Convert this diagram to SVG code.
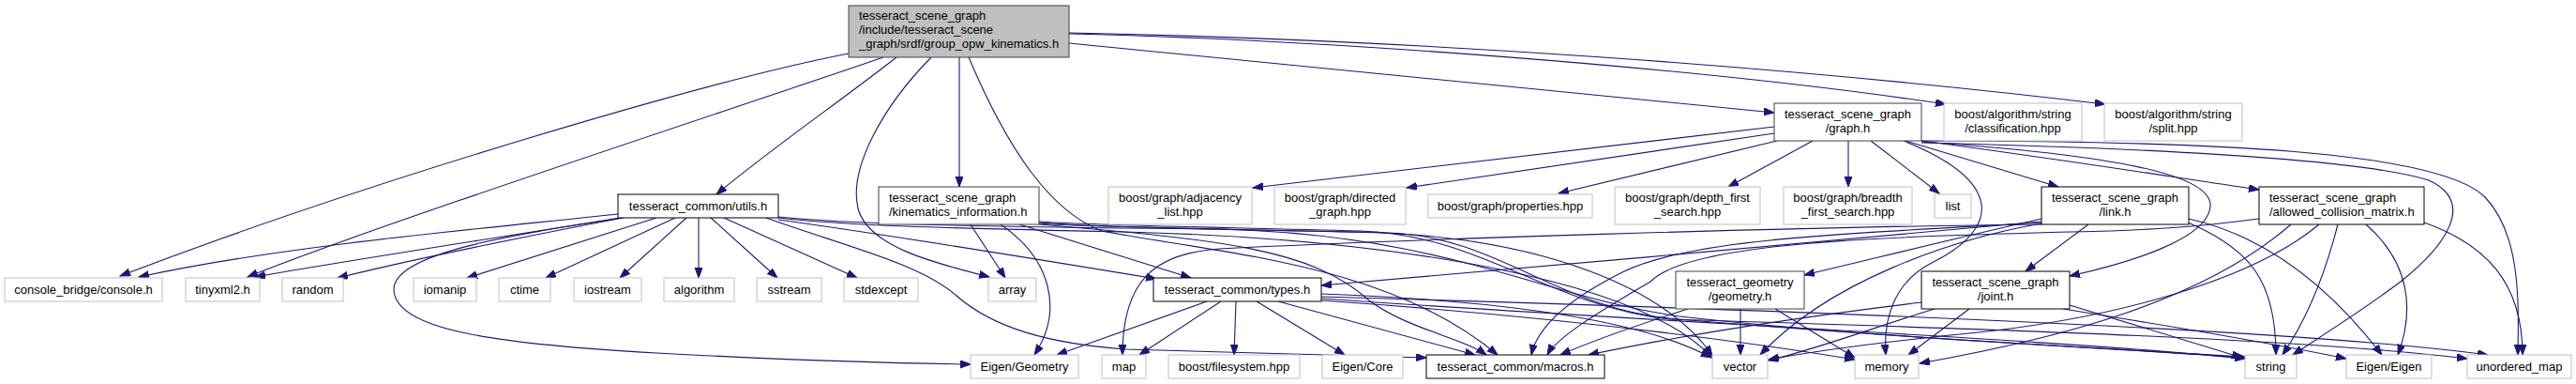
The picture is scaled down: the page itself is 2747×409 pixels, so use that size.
<svg xmlns="http://www.w3.org/2000/svg" width="2747" height="409" viewBox="0 0 2747 409">
<style>
text{font-family:"Liberation Sans",Arial,Helvetica,sans-serif;font-size:13px;fill:#000}
.c{text-anchor:middle}
.ext rect{fill:#fff;stroke:#bfbfbf;stroke-width:1}
.doc rect{fill:#fff;stroke:#000;stroke-width:1}
.dk rect{fill:#fff;stroke:#404040;stroke-width:1}
#edges path{fill:none;stroke:#191970;stroke-width:1.1;marker-end:url(#a)}
</style>
<defs>
<marker id="a" markerWidth="12" markerHeight="9" refX="11" refY="4" orient="auto" markerUnits="userSpaceOnUse">
<path d="M0,0 L11,4 L0,8 z" fill="#191970" stroke="#191970" stroke-width="1"/>
</marker>
</defs>
<rect x="0" y="0" width="2747" height="409" fill="#fff"/>
<g id="edges">
<path d="M905,57 C760,85 400,190 128,294"/>
<path d="M942,61 C800,110 400,240 264,295"/>
<path d="M956,61 C900,105 820,160 764,207"/>
<path d="M1023,61 L1023,199"/>
<path d="M993,61 C940,115 905,180 915,222 C925,262 995,280 1055,295"/>
<path d="M1033,61 C1075,160 1120,225 1175,246 C1300,270 1480,280 1597,378"/>
<path d="M1140,46 L1892,120"/>
<path d="M1140,36 C1400,42 1800,70 2075,111"/>
<path d="M1140,35 C1500,42 1900,70 2245,111"/>
<path d="M659,228 C500,245 300,262 148,295"/>
<path d="M661,232 C520,255 380,276 272,295"/>
<path d="M664,232 C560,252 440,276 360,296"/>
<path d="M700,232 L498,296"/>
<path d="M720,232 L582,296"/>
<path d="M732,232 L661,296"/>
<path d="M745,232 L745,296"/>
<path d="M758,232 L829,296"/>
<path d="M772,232 L914,296"/>
<path d="M665,232 C560,248 420,268 420,308 C420,350 520,366 700,376 C850,384 950,387 1035,388"/>
<path d="M817,232 C900,262 980,280 1020,315 C1060,350 1120,366 1200,372 C1350,377 1450,378 1521,381"/>
<path d="M830,234 C960,252 1100,275 1233,297"/>
<path d="M830,232 C900,240 1000,243 1200,247 C1500,255 1750,300 1825,380"/>
<path d="M830,231 C900,238 1000,241 1300,244 C1550,250 1650,320 1800,338 C2000,360 2250,370 2394,381"/>
<path d="M1035,239 L1072,296"/>
<path d="M1067,239 C1120,275 1135,330 1103,378"/>
<path d="M1087,239 L1270,296"/>
<path d="M1108,239 C1300,255 1400,265 1460,320 C1500,350 1560,360 1585,378"/>
<path d="M1108,237 C1150,241 1250,243 1450,247 C1650,252 1780,310 1826,379"/>
<path d="M1108,238 C1160,242 1300,244 1480,248 C1600,252 1660,330 1790,340 C2000,358 2250,372 2394,380"/>
<path d="M1108,236 C1160,240 1300,242 1450,246 C1580,250 1650,325 1780,340 C2100,350 2450,360 2631,382"/>
<path d="M1892,135 L1336,200"/>
<path d="M1892,142 L1500,200"/>
<path d="M1895,150 L1662,206"/>
<path d="M1933,150 L1843,199"/>
<path d="M1971,150 L1971,199"/>
<path d="M1995,150 L2068,206"/>
<path d="M2032,150 L2195,199"/>
<path d="M2049,150 C2200,170 2300,186 2409,202"/>
<path d="M2049,151 C2250,165 2360,185 2357,220 C2354,255 2270,280 2207,294"/>
<path d="M2030,150 C2130,190 2140,240 2060,280 C2020,300 2008,340 2011,378"/>
<path d="M2049,152 C2300,158 2520,170 2590,192 C2640,215 2610,260 2560,300 C2520,330 2480,355 2445,378"/>
<path d="M2049,150 C2350,150 2600,160 2650,210 C2688,250 2686,320 2685,378"/>
<path d="M2227,239 L2160,289"/>
<path d="M2177,233 C2080,255 2000,275 1924,293"/>
<path d="M2177,236 C1950,255 1650,285 1409,304"/>
<path d="M2177,237 C1950,250 1800,255 1730,290 C1680,315 1640,345 1633,378"/>
<path d="M2177,238 C2080,255 1950,300 1877,378"/>
<path d="M2333,237 C2400,265 2427,300 2427,378"/>
<path d="M2334,233 C2410,250 2480,300 2540,378"/>
<path d="M2177,239 C1900,242 1500,255 1300,265 C1230,270 1197,300 1197,378"/>
<path d="M2409,233 C2370,238 2330,243 2250,246 C2000,252 1800,258 1760,300 C1700,335 1660,360 1650,378"/>
<path d="M2443,239 C2350,320 2200,360 2047,387"/>
<path d="M2473,239 C2400,300 2250,340 2100,355 C2000,365 1930,375 1886,383"/>
<path d="M2493,239 C2480,290 2460,340 2434,378"/>
<path d="M2523,239 C2570,280 2575,330 2557,378"/>
<path d="M2585,237 C2650,260 2690,300 2690,378"/>
<path d="M2100,329 L2035,378"/>
<path d="M2063,329 C2000,348 1950,368 1886,384"/>
<path d="M2049,322 C1900,340 1780,360 1694,378"/>
<path d="M2207,325 L2391,381"/>
<path d="M2200,329 C2300,345 2420,365 2502,382"/>
<path d="M1800,329 C1750,345 1700,362 1664,378"/>
<path d="M1856,329 L1856,378"/>
<path d="M1893,329 L1978,381"/>
<path d="M1287,321 L1127,378"/>
<path d="M1302,321 L1215,378"/>
<path d="M1318,321 L1316,378"/>
<path d="M1340,321 L1434,378"/>
<path d="M1363,321 L1573,378"/>
<path d="M1409,313 C1600,320 1750,340 1825,381"/>
<path d="M1409,318 C1800,345 2200,362 2394,382"/>
<path d="M1409,316 C1900,330 2450,350 2653,378"/>
<path d="M1409,320 C1700,340 1900,370 1978,383"/>
</g>
<g id="n_main"><rect x="905" y="6" width="235" height="55" fill="#bfbfbf" stroke="#404040"/><text x="916" y="21">tesseract_scene_graph</text><text x="916" y="36">/include/tesseract_scene</text><text x="916" y="51">_graph/srdf/group_opw_kinematics.h</text></g>
<g id="n_console" class="ext"><rect x="5" y="296" width="168" height="25"/><text class="c" x="89" y="313">console_bridge/console.h</text></g>
<g id="n_tinyxml2" class="ext"><rect x="198" y="296" width="79" height="25"/><text class="c" x="237.5" y="313">tinyxml2.h</text></g>
<g id="n_random" class="ext"><rect x="301" y="296" width="65" height="25"/><text class="c" x="333.5" y="313">random</text></g>
<g id="n_iomanip" class="ext"><rect x="441" y="296" width="67" height="25"/><text class="c" x="474.5" y="313">iomanip</text></g>
<g id="n_ctime" class="ext"><rect x="532" y="296" width="55" height="25"/><text class="c" x="559.5" y="313">ctime</text></g>
<g id="n_iostream" class="ext"><rect x="612" y="296" width="72" height="25"/><text class="c" x="648" y="313">iostream</text></g>
<g id="n_algorithm" class="ext"><rect x="708" y="296" width="75" height="25"/><text class="c" x="745.5" y="313">algorithm</text></g>
<g id="n_sstream" class="ext"><rect x="807" y="296" width="69" height="25"/><text class="c" x="841.5" y="313">sstream</text></g>
<g id="n_stdexcept" class="ext"><rect x="900" y="296" width="79" height="25"/><text class="c" x="939.5" y="313">stdexcept</text></g>
<g id="n_utils" class="doc"><rect x="659" y="207" width="171" height="25"/><text class="c" x="744.5" y="224">tesseract_common/utils.h</text></g>
<g id="n_kinematics" class="dk"><rect x="937" y="199" width="171" height="40"/><text x="948" y="215">tesseract_scene_graph</text><text x="948" y="230">/kinematics_information.h</text></g>
<g id="n_array" class="ext"><rect x="1054" y="296" width="51" height="25"/><text class="c" x="1079.5" y="313">array</text></g>
<g id="n_adjacency" class="ext"><rect x="1182" y="199" width="153" height="40"/><text class="c" x="1258.5" y="215">boost/graph/adjacency</text><text class="c" x="1258.5" y="230">_list.hpp</text></g>
<g id="n_directed" class="ext"><rect x="1359" y="199" width="140" height="40"/><text class="c" x="1429" y="215">boost/graph/directed</text><text class="c" x="1429" y="230">_graph.hpp</text></g>
<g id="n_properties" class="ext"><rect x="1523" y="207" width="175" height="25"/><text class="c" x="1610.5" y="224">boost/graph/properties.hpp</text></g>
<g id="n_depth" class="ext"><rect x="1722" y="199" width="155" height="40"/><text class="c" x="1799.5" y="215">boost/graph/depth_first</text><text class="c" x="1799.5" y="230">_search.hpp</text></g>
<g id="n_breadth" class="ext"><rect x="1902" y="199" width="137" height="40"/><text class="c" x="1970.5" y="215">boost/graph/breadth</text><text class="c" x="1970.5" y="230">_first_search.hpp</text></g>
<g id="n_list" class="ext"><rect x="2063" y="207" width="39" height="25"/><text class="c" x="2082.5" y="224">list</text></g>
<g id="n_link" class="doc"><rect x="2177" y="199" width="157" height="40"/><text class="c" x="2255.5" y="215">tesseract_scene_graph</text><text class="c" x="2255.5" y="230">/link.h</text></g>
<g id="n_acm" class="doc"><rect x="2409" y="199" width="176" height="40"/><text x="2420" y="215">tesseract_scene_graph</text><text x="2420" y="230">/allowed_collision_matrix.h</text></g>
<g id="n_graph" class="dk"><rect x="1892" y="110" width="157" height="40"/><text class="c" x="1970.5" y="126">tesseract_scene_graph</text><text class="c" x="1970.5" y="141">/graph.h</text></g>
<g id="n_classification" class="ext"><rect x="2073" y="110" width="147" height="40"/><text class="c" x="2146.5" y="126">boost/algorithm/string</text><text class="c" x="2146.5" y="141">/classification.hpp</text></g>
<g id="n_split" class="ext"><rect x="2244" y="110" width="147" height="40"/><text class="c" x="2317.5" y="126">boost/algorithm/string</text><text class="c" x="2317.5" y="141">/split.hpp</text></g>
<g id="n_types" class="doc"><rect x="1230" y="296" width="179" height="25"/><text class="c" x="1319.5" y="313">tesseract_common/types.h</text></g>
<g id="n_geometry" class="dk"><rect x="1787" y="289" width="137" height="40"/><text class="c" x="1855.5" y="305">tesseract_geometry</text><text class="c" x="1855.5" y="320">/geometry.h</text></g>
<g id="n_joint" class="doc"><rect x="2049" y="289" width="158" height="40"/><text class="c" x="2128" y="305">tesseract_scene_graph</text><text class="c" x="2128" y="320">/joint.h</text></g>
<g id="n_eigen_geometry" class="ext"><rect x="1035" y="378" width="115" height="25"/><text class="c" x="1092.5" y="395">Eigen/Geometry</text></g>
<g id="n_map" class="ext"><rect x="1175" y="378" width="47" height="25"/><text class="c" x="1198.5" y="395">map</text></g>
<g id="n_filesystem" class="ext"><rect x="1246" y="378" width="140" height="25"/><text class="c" x="1316" y="395">boost/filesystem.hpp</text></g>
<g id="n_eigen_core" class="ext"><rect x="1410" y="378" width="86" height="25"/><text class="c" x="1453" y="395">Eigen/Core</text></g>
<g id="n_macros" class="doc"><rect x="1521" y="378" width="190" height="25"/><text class="c" x="1616" y="395">tesseract_common/macros.h</text></g>
<g id="n_vector" class="ext"><rect x="1826" y="378" width="59" height="25"/><text class="c" x="1855.5" y="395">vector</text></g>
<g id="n_memory" class="ext"><rect x="1978" y="378" width="68" height="25"/><text class="c" x="2012" y="395">memory</text></g>
<g id="n_string" class="ext"><rect x="2394" y="378" width="55" height="25"/><text class="c" x="2421.5" y="395">string</text></g>
<g id="n_eigen_eigen" class="ext"><rect x="2502" y="378" width="91" height="25"/><text class="c" x="2547.5" y="395">Eigen/Eigen</text></g>
<g id="n_unordered_map" class="ext"><rect x="2631" y="378" width="111" height="25"/><text class="c" x="2686.5" y="395">unordered_map</text></g>
</svg>
